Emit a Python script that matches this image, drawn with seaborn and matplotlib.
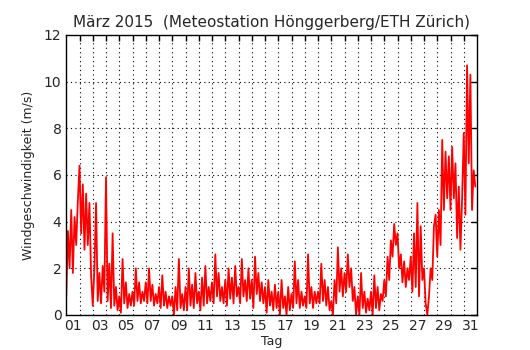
import numpy as np
import pandas as pd
import matplotlib
matplotlib.use('Agg')
import matplotlib.pyplot as plt
import matplotlib.ticker as mticker
import seaborn as sns

# ── data: wind speed (m/s), 3-hourly readings, one row per day of March 2015 ──
DAYS = list(range(1, 32))
HOURS = [0, 3, 6, 9, 12, 15, 18, 21]
WIND = [
    [0.8, 3.6, 2.0, 4.5, 1.8, 4.2, 3.0, 4.9],    # 01
    [6.4, 3.5, 5.6, 2.8, 5.2, 3.0, 4.8, 1.7],    # 02
    [0.4, 2.0, 4.8, 0.6, 1.8, 0.5, 2.1, 1.0],    # 03
    [5.9, 0.6, 2.2, 0.3, 3.5, 0.4, 1.2, 0.2],    # 04
    [0.8, 0.1, 2.4, 0.5, 1.4, 0.3, 0.9, 0.4],    # 05
    [1.0, 0.4, 2.0, 0.6, 1.4, 0.5, 1.0, 0.6],    # 06
    [1.4, 0.5, 2.0, 0.6, 1.3, 0.4, 0.9, 0.5],    # 07
    [1.2, 0.3, 1.7, 0.4, 1.0, 0.3, 0.8, 0.4],    # 08
    [0.8, 0.0, 1.2, 0.2, 2.4, 0.3, 0.9, 0.2],    # 09
    [1.2, 0.2, 2.0, 0.4, 1.3, 0.3, 1.8, 0.5],    # 10
    [1.0, 0.2, 1.6, 0.4, 2.1, 0.5, 1.2, 0.6],    # 11
    [1.4, 0.5, 2.6, 0.8, 1.8, 0.6, 1.2, 0.5],    # 12
    [1.5, 0.4, 2.0, 0.7, 1.6, 0.5, 2.1, 0.8],    # 13
    [1.2, 0.5, 2.4, 0.8, 1.5, 0.6, 2.0, 0.7],    # 14
    [1.5, 0.3, 2.5, 0.9, 1.8, 0.6, 1.4, 0.5],    # 15
    [1.2, 0.1, 1.5, 0.4, 1.0, 0.2, 1.3, 0.3],    # 16
    [1.0, 0.0, 1.5, 0.3, 0.8, 0.0, 1.2, 0.2],    # 17
    [0.9, 0.3, 2.3, 0.5, 1.5, 0.3, 1.0, 0.4],    # 18
    [0.8, 0.3, 2.6, 0.5, 1.2, 0.3, 1.0, 0.5],    # 19
    [1.0, 0.5, 2.2, 0.6, 1.5, 0.4, 1.2, 0.2],    # 20
    [0.6, 0.0, 1.5, 0.5, 2.9, 1.0, 2.0, 0.8],    # 21
    [1.8, 1.0, 2.6, 1.2, 2.0, 0.6, 1.2, 0.0],    # 22
    [0.8, 0.0, 1.8, 0.3, 1.0, 0.1, 0.7, 0.2],    # 23
    [1.0, 0.0, 1.7, 0.3, 1.2, 0.2, 0.9, 0.6],    # 24
    [1.5, 0.8, 2.5, 1.5, 3.2, 2.5, 3.9, 3.0],    # 25
    [3.5, 2.0, 2.6, 1.4, 2.3, 1.2, 2.0, 1.5],    # 26
    [2.5, 1.0, 3.5, 1.2, 4.8, 0.8, 3.8, 1.5],    # 27
    [2.0, 0.5, 0.0, 0.8, 2.0, 1.5, 3.8, 4.3],    # 28
    [2.5, 4.5, 3.0, 7.5, 4.5, 7.0, 5.0, 6.8],    # 29
    [4.5, 7.2, 5.0, 6.5, 3.3, 5.5, 2.8, 5.0],    # 30
    [7.8, 4.3, 10.7, 6.5, 10.3, 4.5, 6.2, 5.5],  # 31
]
Y_TICKS = [0, 2, 4, 6, 8, 10, 12]
DAY_LABELS = [f'{d:02d}' for d in DAYS[::2]]

# long table: fractional day number as x
df = pd.DataFrame(
    [(d + h / 24.0, v) for d, row in zip(DAYS, WIND) for h, v in zip(HOURS, row)],
    columns=['tag', 'wind'],
)

sns.set_style('white')
plt.rcParams['font.family'] = ['DejaVu Sans']

fig, ax = plt.subplots(figsize=(5.3, 3.5), dpi=100)
fig.subplots_adjust(left=0.125, right=0.9, bottom=0.1, top=0.9)

sns.lineplot(data=df, x='tag', y='wind', color='red', linewidth=1.3, ax=ax)

ax.set_xlim(1, 32)
ax.set_ylim(0, 12)
ax.set_yticks(Y_TICKS)

# day boundaries = major ticks (grid), odd-day labels at noon = minor ticks
ax.xaxis.set_major_locator(mticker.FixedLocator(DAYS[1:]))
ax.xaxis.set_major_formatter(mticker.NullFormatter())
ax.xaxis.set_minor_locator(mticker.FixedLocator([d + 0.5 for d in DAYS[::2]]))
ax.xaxis.set_minor_formatter(mticker.FixedFormatter(DAY_LABELS))
ax.tick_params(axis='x', which='minor', length=0, labelsize=10, pad=3)
ax.tick_params(axis='both', which='major', direction='in', length=4, width=1,
               labelsize=10, top=True, right=True, color='black')

ax.grid(True, which='major', linestyle=(0, (1, 3)), color='black', linewidth=0.8)
for s in ax.spines.values():
    s.set_color('black')
    s.set_linewidth(1.0)

ax.set_title('März 2015  (Meteostation Hönggerberg/ETH Zürich)', fontsize=11)
ax.set_xlabel('Tag', fontsize=9, labelpad=1)
ax.set_ylabel('Windgeschwindigkeit (m/s)', fontsize=9, labelpad=6)

fig.savefig('out.png', dpi=100)
